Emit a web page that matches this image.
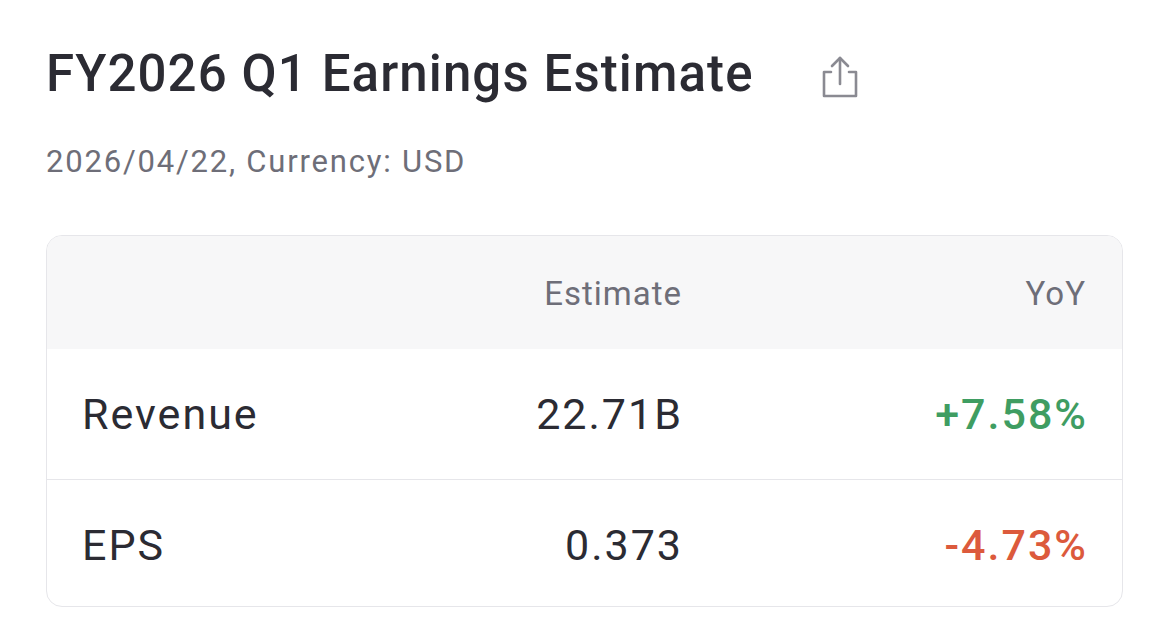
<!DOCTYPE html>
<html><head><meta charset="utf-8">
<script src="https://cdn.jsdelivr.net/npm/chart.js@4"></script>
<style>
html,body{margin:0;padding:0;background:#fff;width:1170px;height:629px;overflow:hidden;font-family:Roboto,"Noto Sans",sans-serif;}
#title{position:absolute;left:46px;top:44px;font-size:51px;font-weight:500;color:#2b2b33;letter-spacing:1.1px;}
#icon{position:absolute;left:816px;top:54px;}
#sub{position:absolute;left:46px;top:143px;font-size:31px;color:#6e6e78;letter-spacing:1.8px;}
#box{position:absolute;left:46px;top:235px;width:1077px;height:372px;border:1.5px solid #e6e6ea;border-radius:16px;overflow:hidden;box-sizing:border-box;}
.row{position:absolute;left:0;width:100%;}
.hdr{top:0;height:113px;background:#f7f7f8;}
.cell{position:absolute;top:50%;transform:translateY(-50%);white-space:nowrap;}
.lab{left:35px;font-size:43px;color:#2b2b33;letter-spacing:2px;}
.est{right:439px;font-size:43px;color:#2b2b33;letter-spacing:2px;}
.yoy{right:34px;font-size:43px;font-weight:500;letter-spacing:2px;}
.hdr .cell{font-size:33px;color:#6e6e78;letter-spacing:1px;}
.hdr .est{right:440px}.hdr .yoy{right:36px}
</style></head><body>
<div id="title"></div>
<svg id="icon" width="46" height="46" viewBox="0 0 46 46" fill="none" stroke="#8a8a92" stroke-width="2.6" stroke-linecap="round" stroke-linejoin="round">
<path d="M15 18H8v24h32V18h-7"/><path d="M24 30V4"/><path d="M16 12l8-8 8 8"/></svg>
<div id="sub"></div>
<div id="box"></div>
<script>
const titleText = "FY2026 Q1 Earnings Estimate";
const subtitleText = "2026/04/22, Currency: USD";
const headers = ["", "Estimate", "YoY"];
const metrics = ["Revenue", "EPS"];
const estimates = ["22.71B", "0.373"];
const yoyValues = [7.58, -4.73];

document.getElementById('title').textContent = titleText;
document.getElementById('sub').textContent = subtitleText;
const box = document.getElementById('box');
const h = document.createElement('div'); h.className='row hdr';
h.innerHTML = `<div class="cell est">${headers[1]}</div><div class="cell yoy" style="font-weight:400">${headers[2]}</div>`;
box.appendChild(h);
metrics.forEach((m,i)=>{
  const r=document.createElement('div'); r.className='row';
  r.style.top=(113+i*130)+'px'; r.style.height='130px';
  if(i>0) r.style.borderTop='1.5px solid #e6e6ea';
  const v=yoyValues[i];
  const col=v>=0?'#3f9d62':'#dc5a3c';
  const txt=(v>=0?'+':'')+v.toFixed(2)+'%';
  r.innerHTML=`<div class="cell lab">${m}</div><div class="cell est">${estimates[i]}</div><div class="cell yoy" style="color:${col}">${txt}</div>`;
  box.appendChild(r);
});
</script>
</body></html>
